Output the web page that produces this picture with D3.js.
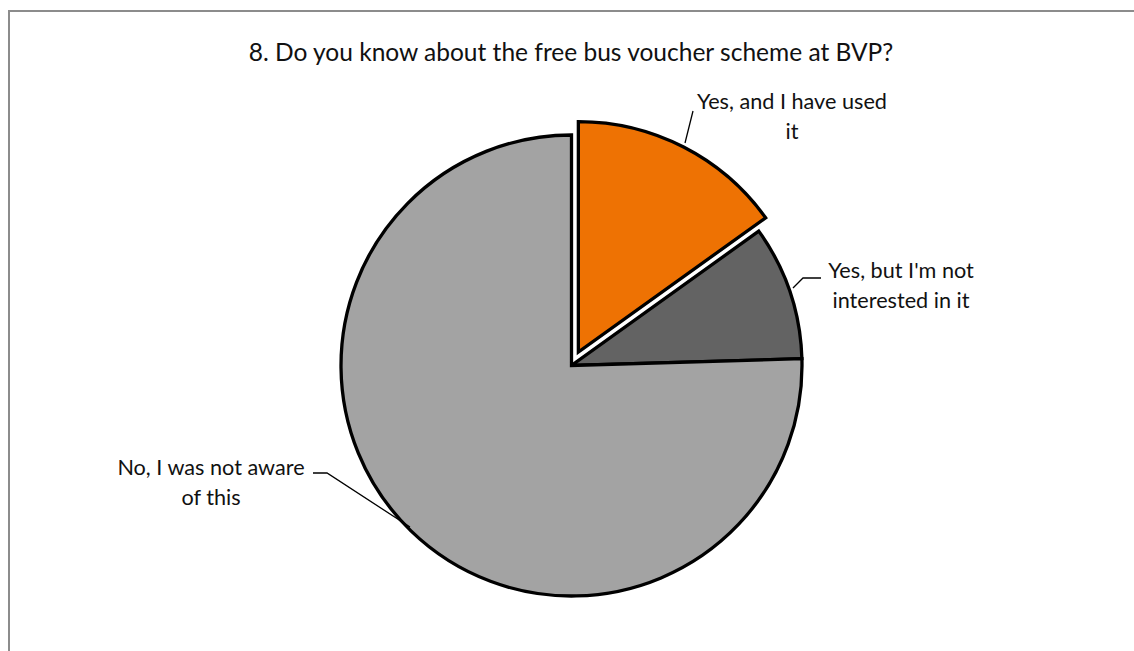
<!DOCTYPE html>
<html>
<head>
<meta charset="utf-8">
<script src="https://cdn.jsdelivr.net/npm/d3@7/dist/d3.min.js"></script>
<style>
  html, body { margin: 0; padding: 0; background: #fff; }
  svg { display: block; }
  text { font-family: Lato, "Open Sans", sans-serif; fill: #111; }
</style>
</head>
<body>
<svg id="chart" width="1134" height="651"></svg>
<script>
// Survey answers and response counts
const categories = ["Yes, and I have used it", "Yes, but I'm not interested in it", "No, I was not aware of this"];
const counts = [16, 10, 80];
const colors = ["#EE7203", "#636363", "#A3A3A3"];
const exploded = [true, false, false];
const labelLines = [["Yes, and I have used", "it"], ["Yes, but I'm not", "interested in it"], ["No, I was not aware", "of this"]];
const title = "8. Do you know about the free bus voucher scheme at BVP?";

const W = 1134, H = 651;
const cx = 571.5, cy = 365.5, R = 230.5, explode = 15;

const svg = d3.select("#chart");

// chart area frame
svg.append("rect")
  .attr("x", 9).attr("y", 11)
  .attr("width", W).attr("height", H)
  .attr("fill", "#fff").attr("stroke", "#8c8c8c").attr("stroke-width", 2);

// size a text element so that it spans the given width
function fitSize(sel, width, base) {
  sel.style("font-size", base + "px");
  const w = sel.node().getComputedTextLength();
  const size = base * width / w;
  sel.style("font-size", size + "px");
  return size;
}

const titleText = svg.append("text")
  .attr("x", 571).attr("y", 61)
  .attr("text-anchor", "middle")
  .text(title);
fitSize(titleText, 645, 20);

const data = categories.map((c, i) => ({ name: c, value: counts[i], color: colors[i], exploded: exploded[i], lines: labelLines[i] }));

const pie = d3.pie().value(d => d.value).sort(null);
const arcs = pie(data);
const arc = d3.arc().innerRadius(0).outerRadius(R);

const g = svg.append("g").attr("transform", `translate(${cx},${cy})`);

g.selectAll("path.slice")
  .data(arcs)
  .join("path")
  .attr("class", "slice")
  .attr("transform", d => {
    if (!d.data.exploded) return null;
    const a = (d.startAngle + d.endAngle) / 2;
    return `translate(${explode * Math.sin(a)},${-explode * Math.cos(a)})`;
  })
  .attr("d", arc)
  .attr("fill", d => d.data.color)
  .attr("stroke", "#000")
  .attr("stroke-width", 3.3)
  .attr("stroke-linejoin", "miter");

// data labels with leader lines
const labelPos = [
  { x: 792, y: 102, line: [[693, 111], [685, 143]] },
  { x: 901, y: 271, line: [[821, 278], [803, 278], [793, 288]] },
  { x: 211, y: 468, line: [[313, 473], [327, 473], [410, 527]] }
];

// common label size from the widest first line
const probe = svg.append("text").text(labelLines[0][0]);
const labelSize = fitSize(probe, 190, 17);
probe.remove();

arcs.forEach((d, i) => {
  const p = labelPos[i];
  const t = svg.append("text")
    .attr("x", p.x).attr("y", p.y + 7)
    .attr("text-anchor", "middle")
    .style("font-size", labelSize + "px");
  d.data.lines.forEach((ln, k) => {
    t.append("tspan").attr("x", p.x).attr("dy", k === 0 ? 0 : 30).text(ln);
  });
  svg.append("path")
    .attr("d", d3.line()(p.line))
    .attr("fill", "none")
    .attr("stroke", "#000")
    .attr("stroke-width", 1.3);
});
</script>
</body>
</html>
